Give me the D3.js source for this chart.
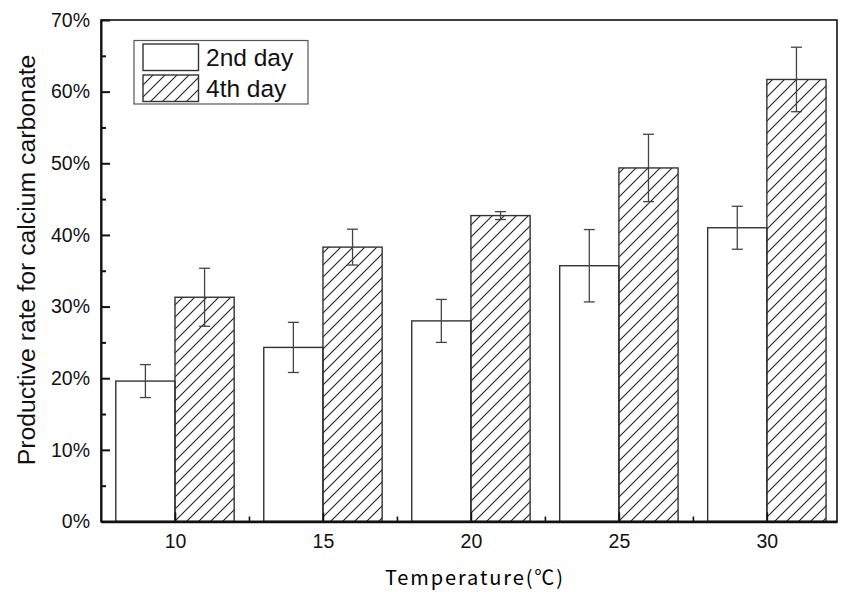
<!DOCTYPE html>
<html>
<head>
<meta charset="utf-8">
<script src="https://cdn.jsdelivr.net/npm/d3@7"></script>
<style>
  body { margin: 0; background: #fff; }
  svg { display: block; }
</style>
</head>
<body>
<svg id="chart" width="843" height="592"></svg>
<script>
const categories = [10, 15, 20, 25, 30];
const day2Values = [19.6, 24.3, 28.0, 35.7, 41.0];
const day2Errors = [2.3, 3.5, 3.0, 5.05, 3.0];
const day4Values = [31.3, 38.3, 42.7, 49.35, 61.7];
const day4Errors = [4.05, 2.5, 0.55, 4.7, 4.5];
const seriesNames = ["2nd day", "4th day"];
const yTicks = [0, 10, 20, 30, 40, 50, 60, 70];
const yMinorTicks = [5, 15, 25, 35, 45, 55, 65];
const xMinorTicks = [12.5, 17.5, 22.5, 27.5];

(function () {
const svg = d3.select("#chart");
const pLeft = 101, pRight = 837, pTop = 20, pBottom = 521.5;

const defs = svg.append("defs");
defs.append("pattern")
  .attr("id", "hatch")
  .attr("patternUnits", "userSpaceOnUse")
  .attr("width", 12).attr("height", 12)
  .append("path")
  .attr("d", "M0,12 L12,0 M-3,3 L3,-3 M9,15 L15,9")
  .attr("stroke", "#222").attr("stroke-width", 1.1).attr("fill", "none");

const x = d3.scaleLinear().domain([7.5, 32.37]).range([pLeft, pRight]);
const y = d3.scaleLinear().domain([0, 70]).range([pBottom, pTop]);

const series = [
  { name: seriesNames[0], values: day2Values, errors: day2Errors, offset: -2, fill: "#fff" },
  { name: seriesNames[1], values: day4Values, errors: day4Errors, offset: 0, fill: "url(#hatch)" }
];

series.forEach(s => {
  const g = svg.append("g");
  g.selectAll("rect").data(categories).enter().append("rect")
    .attr("x", (c) => x(c + s.offset))
    .attr("width", (c) => x(c + s.offset + 2) - x(c + s.offset))
    .attr("y", (c, i) => y(s.values[i]))
    .attr("height", (c, i) => y(0) - y(s.values[i]))
    .attr("fill", s.fill)
    .attr("stroke", "#333").attr("stroke-width", 1.4);
});

series.forEach(s => {
  const g = svg.append("g").attr("stroke", "#444").attr("stroke-width", 1.3).attr("fill", "none");
  categories.forEach((c, i) => {
    const cx = x(c + s.offset + 1);
    const hi = y(s.values[i] + s.errors[i]);
    const lo = y(s.values[i] - s.errors[i]);
    g.append("line").attr("x1", cx).attr("x2", cx).attr("y1", hi).attr("y2", lo);
    g.append("line").attr("x1", cx - 5.5).attr("x2", cx + 5.5).attr("y1", hi).attr("y2", hi);
    g.append("line").attr("x1", cx - 5.5).attr("x2", cx + 5.5).attr("y1", lo).attr("y2", lo);
  });
});

svg.append("rect")
  .attr("x", pLeft).attr("y", pTop)
  .attr("width", pRight - pLeft).attr("height", pBottom - pTop)
  .attr("fill", "none").attr("stroke", "#111").attr("stroke-width", 1.6);

const gy = svg.append("g").attr("transform", `translate(${pLeft},0)`)
  .call(d3.axisLeft(y).tickValues(yTicks).tickFormat(d => d + "%").tickSizeInner(-9).tickSizeOuter(0).tickPadding(20));
gy.attr("color", "#111");
gy.select(".domain").attr("stroke-width", 2);
gy.selectAll(".tick line").attr("stroke-width", 2);
gy.selectAll(".tick text").attr("font-family", "Liberation Sans, Arial, sans-serif").attr("font-size", 19.5).attr("x", -11);

const gym = svg.append("g").attr("transform", `translate(${pLeft},0)`)
  .call(d3.axisLeft(y).tickValues(yMinorTicks).tickFormat(() => "").tickSizeInner(-5).tickSizeOuter(0));
gym.attr("color", "#111");
gym.select(".domain").remove();
gym.selectAll(".tick line").attr("stroke-width", 2);

const gx = svg.append("g").attr("transform", `translate(0,${pBottom})`)
  .call(d3.axisBottom(x).tickValues(categories).tickFormat(d3.format("d")).tickSizeInner(-9).tickSizeOuter(0).tickPadding(20));
gx.attr("color", "#111");
gx.select(".domain").attr("stroke-width", 2.4);
gx.selectAll(".tick line").attr("stroke-width", 1.6);
gx.selectAll(".tick text").attr("font-family", "Liberation Sans, Arial, sans-serif").attr("font-size", 19.5).attr("y", 13);

const gxm = svg.append("g").attr("transform", `translate(0,${pBottom})`)
  .call(d3.axisBottom(x).tickValues(xMinorTicks).tickFormat(() => "").tickSizeInner(-5).tickSizeOuter(0));
gxm.attr("color", "#111");
gxm.select(".domain").remove();
gxm.selectAll(".tick line").attr("stroke-width", 1.6);

svg.append("text")
  .attr("x", 474).attr("y", 585)
  .attr("text-anchor", "middle")
  .attr("font-family", "Noto Sans CJK SC, sans-serif")
  .attr("font-size", 20)
  .attr("textLength", 178).attr("lengthAdjust", "spacing")
  .attr("fill", "#000")
  .text("Temperature(℃)");

svg.append("text")
  .attr("transform", "translate(35,260) rotate(-90)")
  .attr("text-anchor", "middle")
  .attr("font-family", "Liberation Sans, Arial, sans-serif")
  .attr("font-size", 24.8)
  .attr("fill", "#111")
  .text("Productive rate for calcium carbonate");

const lg = svg.append("g");
lg.append("rect").attr("x", 134).attr("y", 40.5).attr("width", 174).attr("height", 63.5)
  .attr("fill", "#fff").attr("stroke", "#555").attr("stroke-width", 1.2);
series.forEach((s, i) => {
  const yy = 44 + i * 31;
  lg.append("rect").attr("x", 143).attr("y", yy).attr("width", 55.5).attr("height", 26.5)
    .attr("fill", s.fill).attr("stroke", "#333").attr("stroke-width", 1.4);
  lg.append("text").attr("x", 206).attr("y", yy + 21.5)
    .attr("font-family", "Liberation Sans, Arial, sans-serif")
    .attr("font-size", 24.5).attr("fill", "#111")
    .text(s.name);
});
})();
</script>
</body>
</html>
